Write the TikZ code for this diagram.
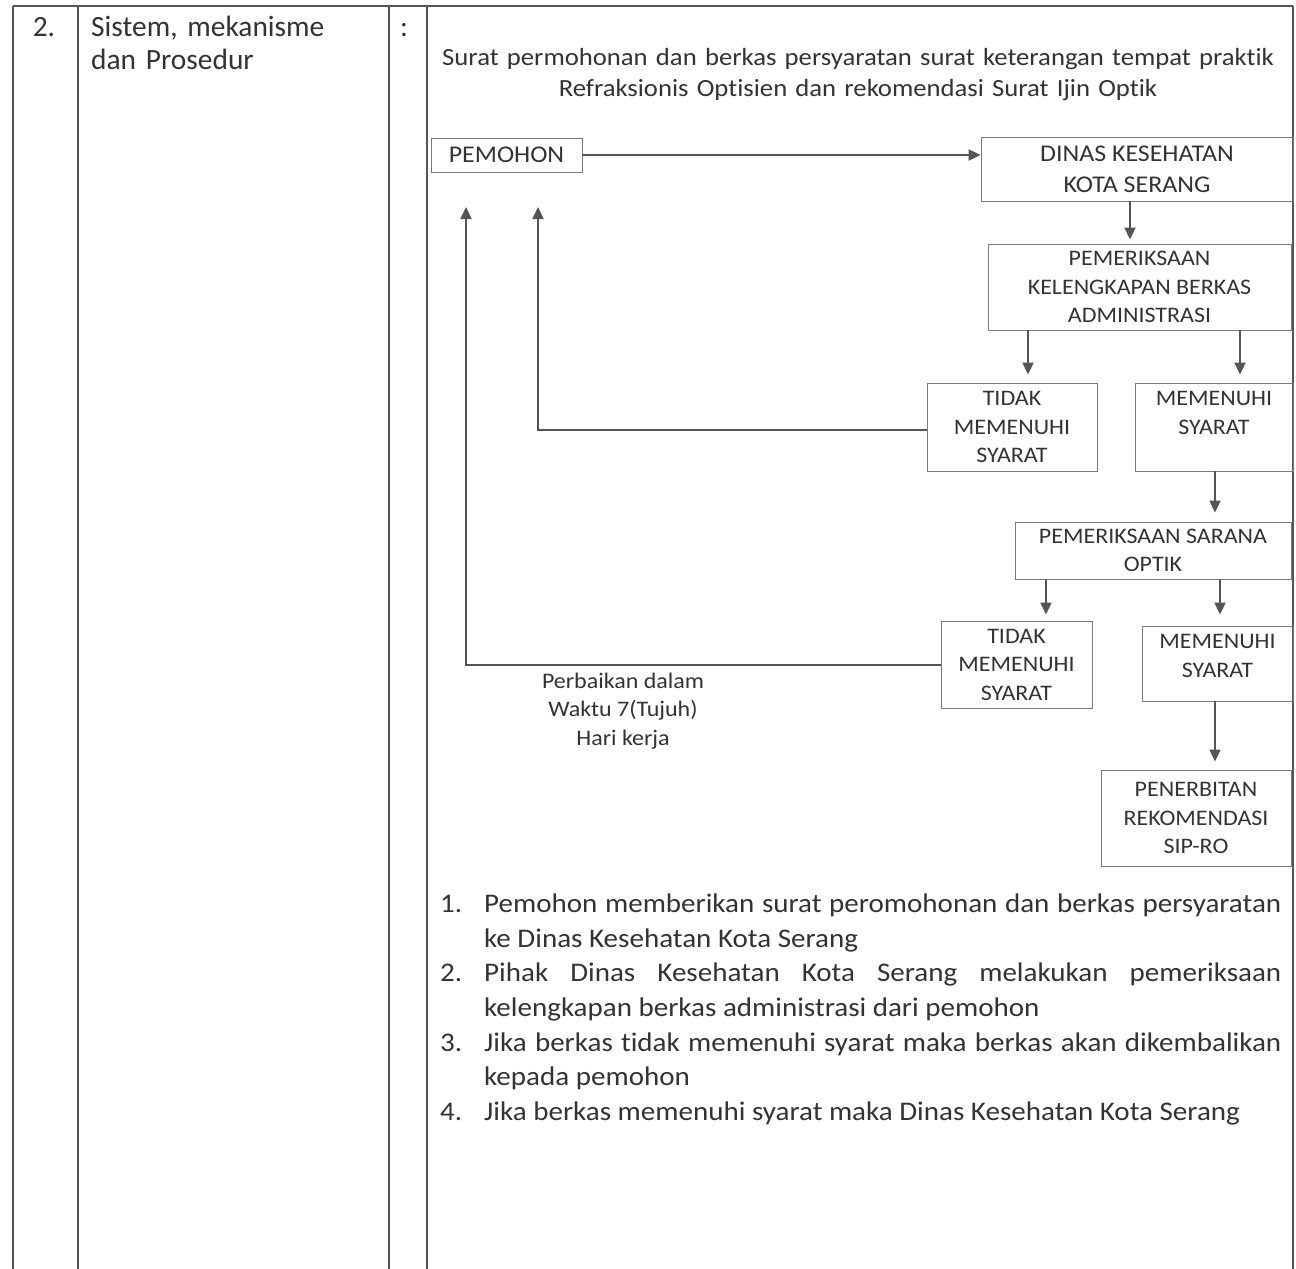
\documentclass[tikz,border=0pt]{standalone}
\usepackage{fontspec}
\setmainfont{Carlito}[RawFeature=-liga]
\newfontfamily\stf[FakeStretch=1.08,RawFeature=-liga]{Carlito}
\usetikzlibrary{arrows.meta}
\definecolor{ink}{HTML}{333333}
\definecolor{lin}{HTML}{555555}
\definecolor{boxc}{HTML}{7A7A7A}
\frenchspacing
\begin{document}
\begin{tikzpicture}[x=1pt,y=-1pt,
  tline/.style={draw=lin, line width=1.1pt},
  boxtxt/.style={inner sep=0pt, align=center, text=ink, font=\stf\fontsize{22.2}{28.5}\selectfont},
  box/.style={boxtxt, draw=boxc, line width=0.9pt},
  bigbox/.style={box, font=\stf\fontsize{24}{31}\selectfont},
  arr/.style={draw=lin, line width=2pt, -{Triangle[width=11pt,length=12pt]}},
  ]
\useasboundingbox (0,0) rectangle (1296,1269);
\fill[white] (0,0) rectangle (1296,1269);
% table lines
\draw[tline] (13,6) -- (1293,6);
\draw[tline] (13,6) -- (13,1269);
\draw[tline] (78,6) -- (78,1269);
\draw[tline] (389,6) -- (389,1269);
\draw[tline] (427,6) -- (427,1269);
\draw[tline] (1293,6) -- (1293,1269);
% left column texts
\node[anchor=base, inner sep=0pt, text=ink, font=\fontsize{29.4}{33}\selectfont] (no) at (44,36.5) {2.};
\node[anchor=base west, inner sep=0pt, text width=290pt, align=left, text=ink, font=\fontsize{29.4}{33}\selectfont] (sis) at (91,36.5) {Sistem, mekanisme\\dan Prosedur};
\node[anchor=base, inner sep=0pt, text=ink, font=\fontsize{29.4}{33}\selectfont] (col) at (404,36.5) {:};
% header
\node[anchor=base, inner sep=0pt, text width=900pt, align=center, text=ink, font=\stf\fontsize{24.7}{31}\selectfont] (hdr) at (858,65) {Surat permohonan dan berkas persyaratan surat keterangan tempat praktik\\Refraksionis Optisien dan rekomendasi Surat Ijin Optik};
% boxes
\node[bigbox, minimum width=151pt, minimum height=34pt] (pem) at (506.5,155) {PEMOHON};
\node[bigbox, minimum width=312pt, minimum height=64pt] (din) at (1137,169) {DINAS KESEHATAN\\KOTA SERANG};
\node[box, minimum width=303pt, minimum height=86pt] (adm) at (1139.5,287) {PEMERIKSAAN\\KELENGKAPAN BERKAS\\ADMINISTRASI};
\node[box, minimum width=170pt, minimum height=88pt] (td1) at (1012,427) {TIDAK\\MEMENUHI\\SYARAT};
\node[box, minimum width=158pt, minimum height=88pt] (mm1) at (1214,427) {};
\node[boxtxt] (mm1t) at (1214,413) {MEMENUHI\\SYARAT};
\node[box, minimum width=276pt, minimum height=57pt] (sar) at (1153,550.5) {PEMERIKSAAN SARANA\\OPTIK};
\node[box, minimum width=151pt, minimum height=87pt] (td2) at (1016.5,664.5) {TIDAK\\MEMENUHI\\SYARAT};
\node[box, minimum width=151pt, minimum height=75pt] (mm2) at (1217.5,663.5) {};
\node[boxtxt] (mm2t) at (1217.5,656) {MEMENUHI\\SYARAT};
\node[box, minimum width=190pt, minimum height=96pt] (pen) at (1196,818) {PENERBITAN\\REKOMENDASI\\SIP-RO};
\node[boxtxt] (lbl) at (623,711) {Perbaikan dalam\\Waktu 7(Tujuh)\\Hari kerja};
% arrows
\draw[arr] (pem.east) -- (pem.east -| din.west);
\draw[arr, shorten >=4pt] (1130,0 |- din.south) -- (1130,0 |- adm.north);
\draw[arr, shorten >=8pt] (1028,0 |- adm.south) -- (1028,0 |- td1.north);
\draw[arr, shorten >=8pt] (1240,0 |- adm.south) -- (1240,0 |- mm1.north);
\draw[arr, shorten >=9pt] (1215,0 |- mm1.south) -- (1215,0 |- sar.north);
\draw[arr, shorten >=6pt] (1046,0 |- sar.south) -- (1046,0 |- td2.north);
\draw[arr, shorten >=11pt] (1220,0 |- sar.south) -- (1220,0 |- mm2.north);
\draw[arr, shorten >=8pt] (1215,0 |- mm2.south) -- (1215,0 |- pen.north);
\coordinate (r1) at (538,207);
\coordinate (r2) at (466,207);
\draw[arr] ([yshift=-3pt]td1.west) -| (r1);
\draw[arr] (td2.west) -| (r2);
% list
\node[anchor=base west, inner sep=0pt, text width=797pt, align=justify, text=ink, font=\stf\fontsize{26.9}{34.6}\selectfont] (lst) at (484,912.7) {%
\leavevmode\llap{\makebox[44pt][l]{1.}}Pemohon memberikan surat peromohonan dan berkas persyaratan\linebreak ke Dinas Kesehatan Kota Serang\par
\leavevmode\llap{\makebox[44pt][l]{2.}}Pihak Dinas Kesehatan Kota Serang melakukan pemeriksaan\linebreak kelengkapan berkas administrasi dari pemohon\par
\leavevmode\llap{\makebox[44pt][l]{3.}}Jika berkas tidak memenuhi syarat maka berkas akan dikembalikan\linebreak kepada pemohon\par
\leavevmode\llap{\makebox[44pt][l]{4.}}Jika berkas memenuhi syarat maka Dinas Kesehatan Kota Serang};
\end{tikzpicture}
\end{document}
